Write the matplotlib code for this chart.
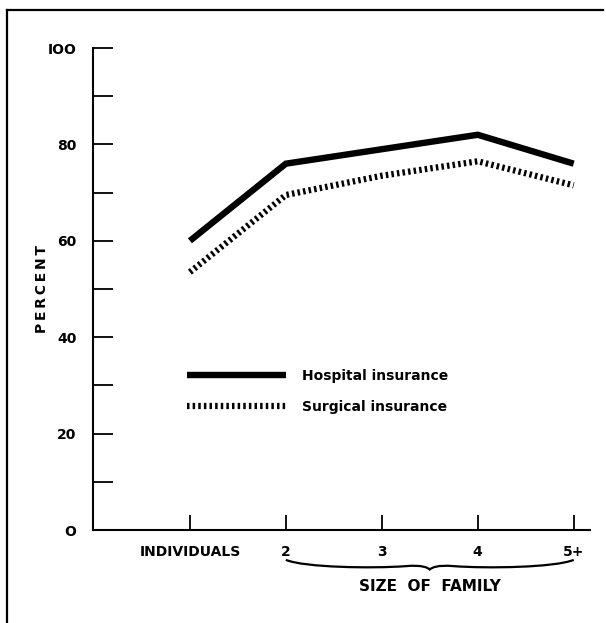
import matplotlib.pyplot as plt
from matplotlib.lines import Line2D
from matplotlib.path import Path
from matplotlib.patches import PathPatch
import numpy as np

categories = ['INDIVIDUALS', '2', '3', '4', '5+']
hospital = [60, 76, 79, 82, 76]
surgical = [53.5, 69.5, 73.5, 76.5, 71.5]
yticks = [0, 20, 40, 60, 80, 100]
yminor = [10, 30, 50, 70, 90]

plt.rcParams['font.family'] = ['DejaVu Sans']
plt.rcParams['font.weight'] = 'bold'

fig = plt.figure(figsize=(6.06, 6.23), dpi=100)
ax = fig.add_axes([93/606, 1-530/623, 497/606, 482/623])

x = np.arange(len(categories))
ax.plot(x, hospital, color='black', lw=4.6, solid_capstyle='butt',
        solid_joinstyle='miter', label='Hospital insurance')
ax.plot(x, surgical, color='black', lw=4.5, linestyle=(0, (0.4, 0.5)),
        dash_capstyle='butt', label='Surgical insurance')

ax.set_xlim(-1.01, 4.17)
ax.set_ylim(0, 100)
ax.set_xticks(x)
ax.set_xticklabels(categories, fontsize=10, fontweight='bold')
ax.set_yticks(yticks)
ax.set_yticklabels(['O', '20', '40', '60', '80', 'IOO'], fontsize=10, fontweight='bold')
ax.set_yticks(yminor, minor=True)

ax.tick_params(axis='y', which='both', direction='in', length=14.5, width=1.3, pad=12)
ax.tick_params(axis='x', which='both', direction='in', length=11, width=1.3, pad=11)

for s in ['top', 'right']:
    ax.spines[s].set_visible(False)
for s in ['left', 'bottom']:
    ax.spines[s].set_linewidth(1.5)

ax.set_ylabel('P\u2009E\u2009R\u2009C\u2009E\u2009N\u2009T', fontsize=10, fontweight='bold')
ax.yaxis.set_label_coords(-0.088, 0.5)

leg = ax.legend(loc='center left', bbox_to_anchor=(0.189, 0.288), frameon=False,
                handlelength=7.1, handletextpad=1.2, labelspacing=1.25,
                borderpad=0, borderaxespad=0, prop={'size': 10, 'weight': 'bold'})

# brace under family sizes
trans = ax.get_xaxis_transform()
x0, x1 = 1, 4
xm = (x0 + x1) / 2
ytop, ylow, ytip = -0.062, -0.078, -0.082
verts = [(x0, ytop), (x0 + 0.2, ylow), (xm - 0.6, ylow - 0.002), (xm - 0.25, ylow + 0.003),
         (xm - 0.08, ylow + 0.006), (xm - 0.02, ytip + 0.004), (xm, ytip),
         (xm + 0.02, ytip + 0.004), (xm + 0.08, ylow + 0.006), (xm + 0.25, ylow + 0.003),
         (xm + 0.6, ylow - 0.002), (x1 - 0.2, ylow), (x1, ytop)]
codes = [Path.MOVETO, Path.CURVE4, Path.CURVE4, Path.CURVE4,
         Path.CURVE4, Path.CURVE4, Path.CURVE4,
         Path.CURVE4, Path.CURVE4, Path.CURVE4,
         Path.CURVE4, Path.CURVE4, Path.CURVE4]
brace = PathPatch(Path(verts, codes), transform=trans, fill=False, lw=1.6,
                  edgecolor='black', clip_on=False)
ax.add_patch(brace)
ax.text(xm, -0.118, 'SIZE  OF  FAMILY', transform=trans, ha='center', va='center',
        fontsize=11, fontweight='bold')

# frame lines (left and top)
fig.add_artist(Line2D([7/606, 7/606], [0, 1-10/623], transform=fig.transFigure,
                      color='black', lw=1.6))
fig.add_artist(Line2D([7/606, 603/606], [1-10/623, 1-10/623], transform=fig.transFigure,
                      color='black', lw=1.6))

fig.savefig('out.png', dpi=100)
